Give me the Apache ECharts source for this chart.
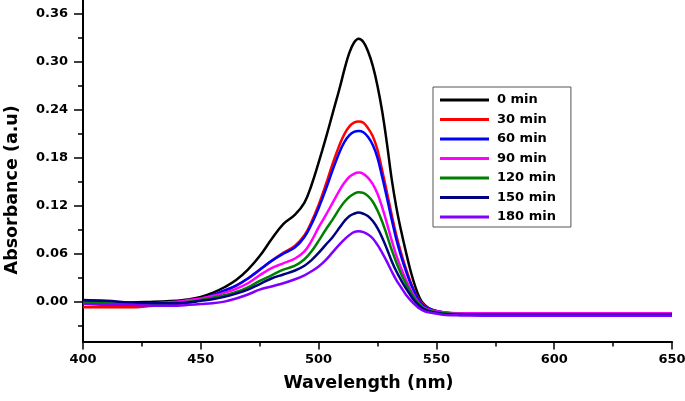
<!DOCTYPE html>
<html>
<head>
<meta charset="utf-8">
<script src="https://cdn.jsdelivr.net/npm/echarts@6/dist/echarts.min.js"></script>
<style>
html,body{margin:0;padding:0;background:#fff;}
#chart{width:685px;height:401px;}
</style>
</head>
<body>
<div id="chart"></div>
<script>
const wavelengths = [400,410,420,430,440,445,450,455,460,465,470,475,480,485,490,494,497,500,503,506,509,511,513,515,517,519,521,523,525,527,529,531,533,535,537,539,541,543,545,548,552,556,560,570,580,590,600,610,620,630,640,650];

const seriesNames = ['0 min','30 min','60 min','90 min','120 min','150 min','180 min'];

const min0 = [0.001,0.000,-0.001,0.000,0.001,0.003,0.006,0.011,0.018,0.027,0.040,0.057,0.078,0.097,0.109,0.124,0.146,0.174,0.204,0.236,0.268,0.291,0.311,0.324,0.329,0.325,0.313,0.295,0.270,0.238,0.198,0.154,0.118,0.089,0.063,0.039,0.019,0.004,-0.004,-0.010,-0.013,-0.0145,-0.015,-0.016,-0.015,-0.016,-0.016,-0.016,-0.016,-0.016,-0.016,-0.016];

const min30 = [-0.007,-0.007,-0.007,-0.005,-0.003,-0.001,0.002,0.007,0.013,0.020,0.029,0.040,0.051,0.061,0.070,0.083,0.100,0.121,0.146,0.173,0.197,0.210,0.219,0.224,0.2255,0.224,0.217,0.207,0.190,0.164,0.137,0.109,0.083,0.061,0.042,0.025,0.011,0.001,-0.005,-0.010,-0.013,-0.0145,-0.015,-0.016,-0.016,-0.016,-0.016,-0.016,-0.016,-0.016,-0.016,-0.016];

const min60 = [-0.002,-0.002,-0.003,-0.003,-0.002,0.000,0.003,0.008,0.014,0.020,0.029,0.040,0.051,0.060,0.068,0.081,0.097,0.117,0.140,0.165,0.188,0.200,0.208,0.2125,0.2136,0.212,0.206,0.196,0.180,0.156,0.130,0.103,0.078,0.057,0.039,0.023,0.010,0.000,-0.006,-0.010,-0.013,-0.0145,-0.015,-0.016,-0.016,-0.016,-0.016,-0.016,-0.016,-0.016,-0.016,-0.016];

const min90 = [-0.002,-0.002,-0.003,-0.002,0.000,0.002,0.004,0.007,0.011,0.016,0.023,0.033,0.042,0.048,0.054,0.063,0.076,0.093,0.108,0.124,0.140,0.149,0.156,0.160,0.1615,0.160,0.155,0.147,0.135,0.118,0.098,0.077,0.058,0.042,0.028,0.015,0.005,-0.003,-0.008,-0.011,-0.013,-0.014,-0.0145,-0.0145,-0.0145,-0.0145,-0.0145,-0.0145,-0.0145,-0.0145,-0.0145,-0.0145];

const min120 = [-0.001,-0.002,-0.003,-0.003,-0.001,0.000,0.002,0.005,0.008,0.012,0.018,0.026,0.033,0.040,0.045,0.053,0.063,0.076,0.090,0.103,0.117,0.125,0.131,0.135,0.137,0.136,0.132,0.125,0.114,0.100,0.083,0.065,0.049,0.035,0.023,0.012,0.003,-0.004,-0.009,-0.012,-0.014,-0.015,-0.0155,-0.016,-0.016,-0.016,-0.016,-0.016,-0.016,-0.016,-0.016,-0.016];

const min150 = [0.002,0.001,-0.001,-0.002,-0.002,-0.001,0.001,0.003,0.006,0.010,0.015,0.022,0.029,0.034,0.039,0.045,0.052,0.061,0.071,0.081,0.093,0.101,0.107,0.110,0.1115,0.110,0.107,0.101,0.092,0.080,0.066,0.051,0.038,0.027,0.017,0.008,0.000,-0.006,-0.010,-0.013,-0.015,-0.016,-0.016,-0.016,-0.016,-0.016,-0.016,-0.016,-0.016,-0.016,-0.016,-0.016];

const min180 = [-0.003,-0.004,-0.004,-0.005,-0.005,-0.004,-0.003,-0.002,0.000,0.004,0.009,0.015,0.019,0.023,0.028,0.033,0.038,0.044,0.052,0.062,0.072,0.078,0.083,0.087,0.088,0.087,0.084,0.079,0.071,0.061,0.050,0.038,0.027,0.018,0.009,0.002,-0.004,-0.009,-0.012,-0.014,-0.016,-0.017,-0.0172,-0.0175,-0.0175,-0.0175,-0.0175,-0.0175,-0.0175,-0.0175,-0.0175,-0.0175];

const yLabelValues = [0, 0.06, 0.12, 0.18, 0.24, 0.30, 0.36];
const yMinorValues = [-0.03, 0.03, 0.09, 0.15, 0.21, 0.27, 0.33];

const allSeries = [min0, min30, min60, min90, min120, min150, min180];
const colors = ['#000000','#ff0000','#0000ff','#ff00ff','#008000','#000080','#8000ff'];

const FONT = 'DejaVu Sans';
const chart = echarts.init(document.getElementById('chart'), null, {renderer:'canvas'});

const yBase = {
  type: 'value', min: -0.05, max: 0.3775, position: 'left',
  splitLine: {show: false}
};

chart.setOption({
  animation: false,
  color: colors,
  grid: {left: 83, right: 13, top: 0, bottom: 59.4, containLabel: false, outerBoundsMode: 'none'},
  legend: {
    orient: 'vertical',
    left: 433, top: 87,
    icon: 'rect',
    itemWidth: 49, itemHeight: 3,
    itemGap: 5.5,
    padding: [6, 15, 3, 7],
    borderColor: '#555555', borderWidth: 1,
    textStyle: {fontFamily: FONT, fontWeight: 'bold', fontSize: 13, color: '#000', lineHeight: 14, padding: [0,0,0,3]},
    data: seriesNames
  },
  xAxis: {
    type: 'value', min: 400, max: 650, interval: 50,
    name: 'Wavelength (nm)', nameLocation: 'middle', nameGap: 33,
    nameTextStyle: {fontFamily: FONT, fontWeight: 'bold', fontSize: 17.5, color: '#000', padding: [0, 18, 0, 0]},
    axisLine: {onZero: false, lineStyle: {color: '#000', width: 2}},
    axisTick: {show: true, length: 8, lineStyle: {color: '#000', width: 1.5}},
    minorTick: {show: true, splitNumber: 2, length: 5, lineStyle: {color: '#000', width: 1.5}},
    axisLabel: {fontFamily: FONT, fontWeight: 'bold', fontSize: 13, color: '#000', margin: 12},
    splitLine: {show: false}
  },
  yAxis: [
    Object.assign({}, yBase, {
      name: 'Absorbance (a.u)', nameLocation: 'middle', nameGap: 62,
      nameTextStyle: {fontFamily: FONT, fontWeight: 'bold', fontSize: 17.5, color: '#000', padding: [0, 38, 0, 0]},
      axisLine: {show: true, lineStyle: {color: '#000', width: 2}},
      axisTick: {show: true, length: 9, customValues: yLabelValues, lineStyle: {color: '#000', width: 1.5}},
      axisLabel: {customValues: yLabelValues, formatter: v => v.toFixed(2), fontFamily: FONT, fontWeight: 'bold', fontSize: 13, color: '#000', margin: 15}
    }),
    Object.assign({}, yBase, {
      axisLine: {show: false},
      axisTick: {show: true, length: 5, customValues: yMinorValues, lineStyle: {color: '#000', width: 1.5}},
      axisLabel: {show: false}
    })
  ],
  series: allSeries.map((vals, i) => ({
    name: seriesNames[i],
    type: 'line',
    yAxisIndex: 0,
    showSymbol: false,
    smooth: 0.4,
    lineStyle: {width: 2.5, color: colors[i]},
    data: wavelengths.map((w, j) => [w, vals[j]])
  }))
});
</script>
</body>
</html>
